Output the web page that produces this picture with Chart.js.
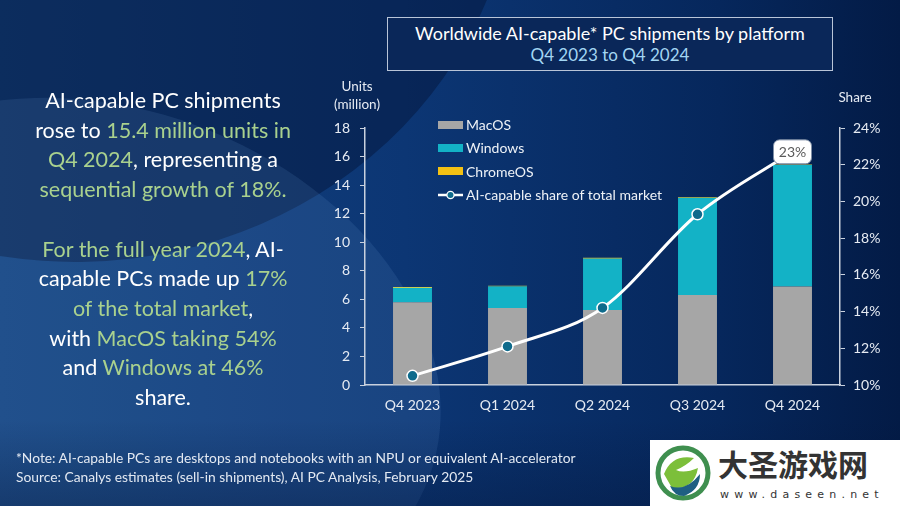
<!DOCTYPE html>
<html>
<head>
<meta charset="utf-8">
<script src="https://cdn.jsdelivr.net/npm/chart.js@4.4.1/dist/chart.umd.min.js"></script>
<style>
  html, body { margin: 0; padding: 0; }
  body { width: 900px; height: 506px; position: relative; overflow: hidden; font-family: Lato, "Noto Sans", sans-serif; color: #fff; }
  #bg, #chart { position: absolute; left: 0; top: 0; }
  .abs { position: absolute; }
  .g { color: #a9d18e; }
  #blurb { left: 0; top: 86px; width: 326px; text-align: center; font-size: 21.5px; line-height: 29.7px; }
  #titlebox { left: 387px; top: 17px; width: 446px; height: 54px; border: 1px solid #b9c5d8; background: #0a2759; text-align: center; font-size: 18px; line-height: 21px; padding-top: 5px; box-sizing: border-box; }
  #titlebox .sub { color: #a3d6f3; font-size: 17px; }
  .axt { font-size: 13.5px; color: #e6ebf3; text-align: center; line-height: 18px; }
  #legend { left: 438px; top: 113px; font-size: 14px; color: #eef2f7; }
  #legend .row { height: 23.3px; display: flex; align-items: center; }
  #legend .sw { width: 25px; height: 8px; margin-right: 3px; }
  #notes { left: 16px; top: 448px; font-size: 13.8px; line-height: 19px; color: #e3e9f2; }
  #wm { left: 650px; top: 440px; width: 250px; height: 66px; background: #fff; }
</style>
</head>
<body>
<canvas id="bg" width="900" height="506"></canvas>

<div id="blurb" class="abs">
  AI-capable PC shipments<br>
  rose to <span class="g">15.4 million units in</span><br>
  <span class="g">Q4 2024</span>, representing a<br>
  <span class="g">sequential growth of 18%.</span><br>
  <br>
  <span class="g">For the full year 2024</span>, AI-<br>
  capable PCs made up <span class="g">17%</span><br>
  <span class="g">of the total market</span>,<br>
  with <span class="g">MacOS taking 54%</span><br>
  and <span class="g">Windows at 46%</span><br>
  share.
</div>

<div id="titlebox" class="abs">
  Worldwide AI-capable* PC shipments by platform<br>
  <span class="sub">Q4 2023 to Q4 2024</span>
</div>

<div class="abs axt" style="left:322px; top:77px; width:70px;">Units<br>(million)</div>
<div class="abs axt" style="left:825px; top:88px; width:60px;">Share</div>

<div id="legend" class="abs">
  <div class="row"><span class="sw" style="background:#a6a6a6"></span>MacOS</div>
  <div class="row"><span class="sw" style="background:#13b2c6"></span>Windows</div>
  <div class="row"><span class="sw" style="background:#f3c114"></span>ChromeOS</div>
  <div class="row"><svg width="28" height="10" style="margin-right:0"><line x1="0" y1="5" x2="25" y2="5" stroke="#fff" stroke-width="2.5"/><circle cx="12.5" cy="5" r="3.6" fill="#0f6b8c" stroke="#fff" stroke-width="1.3"/></svg>AI-capable share of total market</div>
</div>

<div id="notes" class="abs">
  *Note: AI-capable PCs are desktops and notebooks with an NPU or equivalent AI-accelerator<br>
  Source: Canalys estimates (sell-in shipments), AI PC Analysis, February 2025
</div>

<div id="wm" class="abs">
  <svg width="250" height="66">
    <circle cx="33" cy="33" r="25" fill="#fff" stroke="#3f8f4f" stroke-width="5"/>
    <path d="M14 34 Q22 14 44 18 Q36 26 26 30 Q34 34 48 28 Q44 50 22 48 Z" fill="#7cbf3a"/>
    <path d="M20 46 Q36 52 50 34 Q50 50 34 56 Q24 56 20 46 Z" fill="#1f5f82"/>
    <text x="68" y="36" font-family="Noto Sans CJK SC" font-weight="700" font-size="30" fill="#333">大圣游戏网</text>
    <text x="70" y="58" font-family="DejaVu Sans" font-size="11" letter-spacing="5.2" fill="#333">www.daseen.net</text>
  </svg>
</div>

<canvas id="chart" width="900" height="506"></canvas>

<script>
// ---------------- data ----------------
var quarters = ['Q4 2023', 'Q1 2024', 'Q2 2024', 'Q3 2024', 'Q4 2024'];
var macos = [5.8, 5.4, 5.25, 6.3, 6.9];
var windows = [1.0, 1.5, 3.6, 6.8, 8.5];
var chromeos = [0.06, 0.06, 0.06, 0.05, 0.04];
var aiShare = [10.5, 12.1, 14.2, 19.3, 22.7];
var unitTicks = [0, 2, 4, 6, 8, 10, 12, 14, 16, 18];
var shareTicks = [10, 12, 14, 16, 18, 20, 22, 24];

// ---------------- background ----------------
(function() {
    var c = document.getElementById('bg').getContext('2d');
    var g = c.createLinearGradient(0, 0, 900, 0);
    g.addColorStop(0, '#154480');
    g.addColorStop(0.45, '#0c3674');
    g.addColorStop(0.8, '#06275c');
    g.addColorStop(1, '#031b46');
    c.fillStyle = g;
    c.fillRect(0, 0, 900, 506);

    // dark top-left sweep
    c.fillStyle = 'rgba(4,22,60,0.5)';
    c.beginPath();
    c.ellipse(60, -170, 460, 430, 0.25, 0, Math.PI * 2);
    c.fill();

    // lighter lower-left circle
    c.fillStyle = 'rgba(120,170,230,0.12)';
    c.beginPath();
    c.ellipse(110, 360, 340, 250, 0.35, 0, Math.PI * 2);
    c.fill();

    // darker bottom band
    var b = c.createLinearGradient(0, 420, 0, 506);
    b.addColorStop(0, 'rgba(3,20,55,0)');
    b.addColorStop(1, 'rgba(3,20,55,0.35)');
    c.fillStyle = b;
    c.fillRect(0, 420, 900, 86);
})();

// ---------------- chart ----------------
Chart.defaults.font.family = 'Lato, "Noto Sans", sans-serif';
Chart.defaults.color = '#e6ebf3';

var lastLabel = {
    id: 'lastLabel',
    afterDatasetsDraw: function(chart) {
        var meta = chart.getDatasetMeta(3);
        var i = aiShare.length - 1;
        var pt = meta.data[i];
        var ctx = chart.ctx;
        var txt = Math.round(aiShare[i]) + '%';
        var w = 38, h = 24;
        ctx.save();
        ctx.beginPath();
        ctx.roundRect(pt.x - w / 2, pt.y - h / 2, w, h, 6);
        ctx.fillStyle = '#ffffff';
        ctx.fill();
        ctx.strokeStyle = '#7f8fa6';
        ctx.lineWidth = 1;
        ctx.stroke();
        ctx.fillStyle = '#5a5a5a';
        ctx.font = '14px Lato';
        ctx.textAlign = 'center';
        ctx.textBaseline = 'middle';
        ctx.fillText(txt, pt.x, pt.y + 1);
        ctx.restore();
    }
};

var axisCol = '#c9d1de';

new Chart(document.getElementById('chart'), {
    type: 'bar',
    data: {
        labels: quarters,
        datasets: [{
            label: 'MacOS',
            data: macos,
            backgroundColor: '#a6a6a6',
            stack: 's',
            order: 1
        }, {
            label: 'Windows',
            data: windows,
            backgroundColor: '#13b2c6',
            stack: 's',
            order: 1
        }, {
            label: 'ChromeOS',
            data: chromeos,
            backgroundColor: '#c9cf52',
            stack: 's',
            order: 1
        }, {
            type: 'line',
            label: 'AI-capable share of total market',
            data: aiShare,
            yAxisID: 'y1',
            borderColor: '#ffffff',
            borderWidth: 3,
            cubicInterpolationMode: 'monotone',
            pointRadius: 5.5,
            pointBackgroundColor: '#0f6b8c',
            pointBorderColor: '#ffffff',
            pointBorderWidth: 1.5,
            order: 0
        }]
    },
    options: {
        responsive: false,
        devicePixelRatio: 1,
        animation: false,
        events: [],
        layout: { padding: { left: 320, right: 15, top: 128, bottom: 91 } },
        datasets: { bar: { categoryPercentage: 1, barPercentage: 0.41 } },
        plugins: { legend: { display: false }, tooltip: { enabled: false } },
        scales: {
            x: {
                stacked: true,
                grid: { display: false },
                border: { color: axisCol, width: 1.5 },
                ticks: { font: { size: 14 }, padding: 4, color: '#e6ebf3' },
                afterFit: function(s) { s.height = 30; }
            },
            y: {
                stacked: true,
                min: 0, max: 18,
                afterBuildTicks: function(s) { s.ticks = unitTicks.map(function(v) { return { value: v }; }); },
                grid: { drawOnChartArea: false, color: axisCol, tickLength: 5 },
                border: { color: axisCol, width: 1.5 },
                ticks: { font: { size: 14 }, padding: 10, color: '#e6ebf3' },
                afterFit: function(s) { s.width = 45; }
            },
            y1: {
                position: 'right',
                min: 10, max: 24,
                afterBuildTicks: function(s) { s.ticks = shareTicks.map(function(v) { return { value: v }; }); },
                grid: { drawOnChartArea: false, color: axisCol, tickLength: 5 },
                border: { color: axisCol, width: 1.5 },
                ticks: { font: { size: 14 }, padding: 8, color: '#e6ebf3', callback: function(v) { return v + '%'; } },
                afterFit: function(s) { s.width = 45; }
            }
        }
    },
    plugins: [lastLabel]
});
</script>
</body>
</html>
